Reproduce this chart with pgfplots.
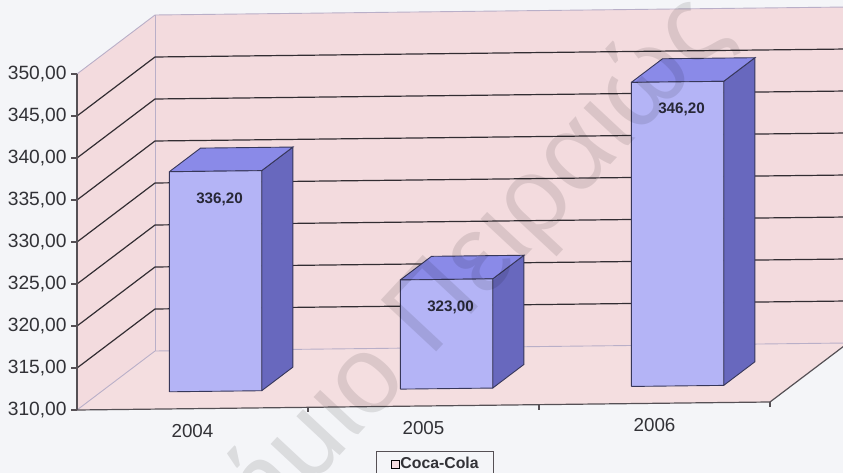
\documentclass[border=0pt]{standalone}
\usepackage{fontspec}
\setmainfont{Liberation Sans}
\usepackage{pgfplots}
\pgfplotsset{compat=1.18}
\usetikzlibrary{backgrounds}
\definecolor{bgc}{RGB}{244,245,248}
\definecolor{wall}{RGB}{243,219,222}
\definecolor{wallfloor}{RGB}{244,222,224}
\definecolor{edge}{RGB}{185,175,200}
\definecolor{gridc}{RGB}{50,45,50}
\definecolor{axc}{RGB}{85,80,85}
\definecolor{bfront}{RGB}{180,180,246}
\definecolor{btop}{RGB}{138,138,232}
\definecolor{bside}{RGB}{104,104,190}
\definecolor{bedge}{RGB}{55,55,90}
\definecolor{txt}{RGB}{50,50,55}
\definecolor{dlab}{RGB}{40,40,55}
\begin{document}
\begin{tikzpicture}
\begin{axis}[
  x={(115.5bp,1.335bp)}, y={(39bp,29.5bp)}, z={(0bp,4.2bp)},
  xmin=0,xmax=3,ymin=0,ymax=1,zmin=310,zmax=350,
  hide axis, clip=false,
  legend image code/.code={\draw[#1] (1.5bp,-2bp) rectangle (5.5bp,2bp);},
  legend style={at={(axis cs:1.55,0,310)}, anchor=north, yshift=-22.5bp,
    draw=axc, fill=bgc, line width=0.5bp,
    font=\fontsize{7.9bp}{9bp}\selectfont\bfseries, text=txt,
    inner xsep=7.5bp, inner ysep=3bp,
    nodes={inner sep=0bp, text depth=0.15em},
    /tikz/every even column/.append style={column sep=2.5bp}},
  legend cell align=left,
]
% walls and floor
\addplot3[fill=wall, draw=none] coordinates {(0,1,310) (3,1,310) (3,1,350) (0,1,350)};
\addplot3[fill=wall, draw=none] coordinates {(0,0,310) (0,1,310) (0,1,350) (0,0,350)};
\addplot3[fill=wallfloor, draw=none] coordinates {(0,0,310) (3,0,310) (3,1,310) (0,1,310)};
\addplot3[edge, line width=0.45bp] coordinates {(0,0,350) (0,1,350) (3,1,350)};
\addplot3[edge, line width=0.45bp] coordinates {(0,0,310) (0,1,310) (3,1,310)};
\addplot3[edge, line width=0.45bp] coordinates {(0,1,310) (0,1,350)};
% gridlines
\addplot3[gridc, line width=0.6bp] coordinates {(0,0,315) (0,1,315) (3,1,315)};
\addplot3[gridc, line width=0.6bp] coordinates {(0,0,320) (0,1,320) (3,1,320)};
\addplot3[gridc, line width=0.6bp] coordinates {(0,0,325) (0,1,325) (3,1,325)};
\addplot3[gridc, line width=0.6bp] coordinates {(0,0,330) (0,1,330) (3,1,330)};
\addplot3[gridc, line width=0.6bp] coordinates {(0,0,335) (0,1,335) (3,1,335)};
\addplot3[gridc, line width=0.6bp] coordinates {(0,0,340) (0,1,340) (3,1,340)};
\addplot3[gridc, line width=0.6bp] coordinates {(0,0,345) (0,1,345) (3,1,345)};
% axes
\addplot3[axc, line width=0.6bp] coordinates {(0,0,310) (3,0,310) (3,1,310)};
\addplot3[axc, line width=0.6bp] coordinates {(0,0,310) (0,0,350)};
\pgfplotsinvokeforeach{310,315,320,325,330,335,340,345,350}{
  \draw[axc, line width=0.6bp] (axis cs:0,0,#1) -- ++(-3bp,0);
  \node[anchor=east, inner sep=0bp, xshift=-5bp, text=txt,
    font=\fontsize{9.6bp}{11bp}\selectfont] at (axis cs:0,0,#1) {#1,00};
}
\pgfplotsinvokeforeach{1,2,3}{
  \draw[axc, line width=0.6bp] (axis cs:#1,0,310) -- ++(0,-2.5bp);
}
\node[anchor=north, inner sep=0bp, yshift=-7.5bp, text=txt, font=\fontsize{9.4bp}{11bp}\selectfont] at (axis cs:0.5,0,310) {2004};
\node[anchor=north, inner sep=0bp, yshift=-7.5bp, text=txt, font=\fontsize{9.4bp}{11bp}\selectfont] at (axis cs:1.5,0,310) {2005};
\node[anchor=north, inner sep=0bp, yshift=-7.5bp, text=txt, font=\fontsize{9.4bp}{11bp}\selectfont] at (axis cs:2.5,0,310) {2006};
% bars 2004
\addplot3[fill=bside, draw=bedge, line width=0.45bp] coordinates {(0.70,0.295,310) (0.70,0.695,310) (0.70,0.695,336.2) (0.70,0.295,336.2) (0.70,0.295,310)};
\addplot3[fill=btop, draw=bedge, line width=0.45bp] coordinates {(0.30,0.295,336.2) (0.70,0.295,336.2) (0.70,0.695,336.2) (0.30,0.695,336.2) (0.30,0.295,336.2)};
\addplot3[fill=bfront, draw=bedge, line width=0.45bp] coordinates {(0.30,0.295,310) (0.70,0.295,310) (0.70,0.295,336.2) (0.30,0.295,336.2) (0.30,0.295,310)};
% bars 2005
\addplot3[fill=bside, draw=bedge, line width=0.45bp] coordinates {(1.70,0.295,310) (1.70,0.695,310) (1.70,0.695,323.0) (1.70,0.295,323.0) (1.70,0.295,310)};
\addplot3[fill=btop, draw=bedge, line width=0.45bp] coordinates {(1.30,0.295,323.0) (1.70,0.295,323.0) (1.70,0.695,323.0) (1.30,0.695,323.0) (1.30,0.295,323.0)};
\addplot3[fill=bfront, draw=bedge, line width=0.45bp] coordinates {(1.30,0.295,310) (1.70,0.295,310) (1.70,0.295,323.0) (1.30,0.295,323.0) (1.30,0.295,310)};
% bars 2006
\addplot3[fill=bside, draw=bedge, line width=0.45bp] coordinates {(2.70,0.295,310) (2.70,0.695,310) (2.70,0.695,346.2) (2.70,0.295,346.2) (2.70,0.295,310)};
\addplot3[fill=btop, draw=bedge, line width=0.45bp] coordinates {(2.30,0.295,346.2) (2.70,0.295,346.2) (2.70,0.695,346.2) (2.30,0.695,346.2) (2.30,0.295,346.2)};
\addplot3[fill=bfront, draw=bedge, line width=0.45bp] coordinates {(2.30,0.295,310) (2.70,0.295,310) (2.70,0.295,346.2) (2.30,0.295,346.2) (2.30,0.295,310)};
% data labels
\node[text=dlab, xshift=2bp, yshift=-14bp, font=\fontsize{7.6bp}{9bp}\selectfont\bfseries] at (axis cs:0.5,0.295,336.2) {336,20};
\node[text=dlab, xshift=2bp, yshift=-14bp, font=\fontsize{7.6bp}{9bp}\selectfont\bfseries] at (axis cs:1.5,0.295,323.0) {323,00};
\node[text=dlab, xshift=2bp, yshift=-14bp, font=\fontsize{7.6bp}{9bp}\selectfont\bfseries] at (axis cs:2.5,0.295,346.2) {346,20};
\addlegendimage{fill=bfront, draw=bedge, line width=0.45bp}
\addlegendentry{Coca-Cola}
\coordinate (O) at (axis cs:0,0,310);
\end{axis}
\node[rotate=47, anchor=base east, inner sep=0bp, text=black, opacity=0.10,
  font=\fontsize{55bp}{60bp}\selectfont] at ([xshift=328bp,yshift=188bp]O) {Πανεπιστήμιο Πειραιώς};
\begin{scope}[on background layer]
\fill[bgc] ([xshift=-38.5bp,yshift=205bp]O) rectangle ([xshift=383bp,yshift=-31.5bp]O);
\end{scope}
\pgfresetboundingbox
\path[use as bounding box] ([xshift=-38.5bp,yshift=205bp]O) rectangle ([xshift=383bp,yshift=-31.5bp]O);
\end{tikzpicture}
\end{document}
